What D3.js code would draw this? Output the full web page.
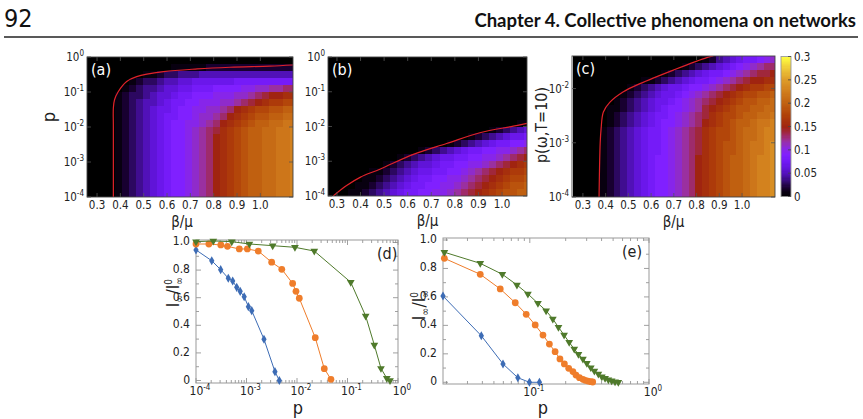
<!DOCTYPE html>
<html>
<head>
<meta charset="utf-8">
<script src="https://cdn.jsdelivr.net/npm/d3@7"></script>
<style>
  body { margin: 0; background: #fff; }
  svg { display: block; }
  text { font-family: "Liberation Sans Narrow", "DejaVu Sans Condensed", "Liberation Sans", sans-serif; fill: #222; }
</style>
</head>
<body>
<svg id="chart" width="863" height="419"></svg>
<script>
// ---------- heatmap data (values in units of 0.01) ----------
// beta/mu column centres shared by the three maps
const betaCols = [0.27, 0.30, 0.33, 0.36, 0.39, 0.42, 0.45, 0.48, 0.51, 0.54, 0.57, 0.60, 0.63, 0.66, 0.69,
                  0.72, 0.75, 0.78, 0.81, 0.84, 0.87, 0.90, 0.93, 0.96, 0.99, 1.02, 1.05, 1.08, 1.11, 1.14];
// log10(p) row centres, top row first
const rowsAB = [-0.1, -0.3, -0.5, -0.7, -0.9, -1.1, -1.3, -1.5, -1.7, -1.9,
                -2.1, -2.3, -2.5, -2.7, -2.9, -3.1, -3.3, -3.5, -3.7, -3.9];
const rowsC = [-1.465, -1.595, -1.725, -1.855, -1.985, -2.115, -2.245, -2.375, -2.505, -2.635,
               -2.765, -2.895, -3.025, -3.155, -3.285, -3.415, -3.545, -3.675, -3.805, -3.935];

const zeroRow = [0,0,0,0,0,0,0,0,0,0,0,0,0,0,0,0,0,0,0,0,0,0,0,0,0,0,0,0,0,0];
const aLow = [0,0,0,0,1,2,3,4,5,6,7,8,9,9,10,11,12,13,15,16,17,18,19,20,20,21,21,22,22,23];
const heatA = [
  zeroRow,
  [0,0,0,0,0,0,0,0,0,0,0,0,1,1,1,1,1,2,2,2,2,2,2,2,2,2,2,2,2,2],
  [0,0,0,0,0,0,0,0,1,1,2,3,3,4,4,4,5,5,5,5,5,5,5,5,5,5,5,5,5,5],
  [0,0,0,0,0,0,1,2,3,3,4,5,5,6,6,7,7,7,7,7,7,8,8,8,8,8,8,8,8,8],
  [0,0,0,0,0,1,2,3,4,4,5,6,6,7,7,8,8,8,9,9,9,9,10,10,11,11,12,12,13,13],
  [0,0,0,0,1,2,3,3,4,5,6,6,7,8,8,9,9,9,10,10,10,11,11,12,13,14,15,15,16,16],
  [0,0,0,0,1,2,3,4,5,5,6,7,8,8,9,9,10,10,10,11,11,12,13,14,15,16,17,17,18,18],
  [0,0,0,0,1,2,3,4,5,6,7,7,8,9,9,10,10,11,11,12,13,15,16,17,18,18,19,19,20,20],
  [0,0,0,0,1,2,3,4,5,6,7,8,8,9,9,10,11,11,12,13,15,16,17,18,19,19,20,20,21,21],
  [0,0,0,0,1,2,3,4,5,6,7,8,9,9,10,10,11,12,13,15,16,17,18,19,20,20,21,21,22,22],
  [0,0,0,0,1,2,3,4,5,6,7,8,9,9,10,11,12,13,14,16,17,18,19,20,20,21,21,22,22,23],
  aLow, aLow, aLow, aLow, aLow, aLow, aLow, aLow, aLow
];
const heatB = [
  zeroRow, zeroRow, zeroRow, zeroRow, zeroRow, zeroRow, zeroRow, zeroRow, zeroRow,
  [0,0,0,0,0,0,0,0,0,0,0,0,0,0,0,0,0,0,0,0,0,0,0,0,0,0,0,1,1,1],
  [0,0,0,0,0,0,0,0,0,0,0,0,0,0,0,0,0,0,0,0,0,0,0,1,2,3,4,5,6,6],
  [0,0,0,0,0,0,0,0,0,0,0,0,0,0,0,0,0,0,0,0,1,2,3,4,5,6,7,7,8,8],
  [0,0,0,0,0,0,0,0,0,0,0,0,0,0,0,0,0,1,2,3,4,5,6,7,8,8,9,9,10,10],
  [0,0,0,0,0,0,0,0,0,0,0,0,0,1,2,3,4,5,6,7,8,8,9,9,10,10,11,12,13,13],
  [0,0,0,0,0,0,0,0,0,0,1,2,3,4,5,6,7,7,8,8,9,9,10,10,11,12,13,14,15,15],
  [0,0,0,0,0,0,0,0,1,2,3,4,5,6,6,7,8,8,9,9,10,10,11,12,13,14,15,16,17,17],
  [0,0,0,0,0,0,1,1,2,3,4,5,6,7,7,8,8,9,9,10,11,12,13,14,15,16,17,17,18,18],
  [0,0,0,0,0,1,1,2,3,4,5,6,7,8,8,9,9,10,10,11,12,13,14,15,16,17,18,18,19,19],
  [0,0,0,0,1,1,2,3,4,5,6,7,8,8,9,9,10,10,11,12,13,14,15,16,17,18,19,19,20,20],
  [0,0,0,1,1,2,3,4,5,6,7,8,8,9,9,10,10,11,12,13,14,15,16,17,18,19,19,20,20,21]
];
const cMid = [0,0,0,0,1,2,3,4,5,6,7,8,8,9,10,11,12,13,14,16,17,18,18,19,20,21,21,22,23,23];
const cLow = [0,0,0,0,1,2,3,4,5,6,7,8,9,9,10,11,12,13,15,16,17,18,19,20,20,21,22,23,23,24];
const heatC = [
  [0,0,0,0,0,0,0,0,0,0,0,0,0,0,0,0,0,0,0,1,2,4,5,6,7,8,8,9,10,11],
  [0,0,0,0,0,0,0,0,0,0,0,0,0,0,0,0,1,2,3,4,5,6,7,8,9,10,11,12,13,13],
  [0,0,0,0,0,0,0,0,0,0,0,0,0,1,2,3,4,5,6,7,8,8,9,10,11,12,13,14,14,15],
  [0,0,0,0,0,0,0,0,0,0,1,1,2,3,4,5,6,7,8,8,9,10,11,12,13,14,15,15,16,16],
  [0,0,0,0,0,0,0,0,1,2,3,4,5,6,7,7,8,9,9,10,11,12,13,14,15,16,17,17,18,18],
  [0,0,0,0,0,0,0,1,2,3,4,5,6,7,7,8,9,10,11,12,13,14,15,16,17,18,18,19,19,20],
  [0,0,0,0,0,0,1,2,3,4,5,6,7,7,8,9,10,11,12,13,14,15,16,17,18,19,19,20,20,21],
  [0,0,0,0,0,1,1,2,3,4,5,6,7,8,9,9,10,11,12,14,15,16,17,18,19,19,20,20,21,21],
  [0,0,0,0,0,1,2,3,4,5,6,7,8,8,9,10,11,12,13,14,16,17,18,18,19,20,20,21,21,22],
  [0,0,0,0,0,1,2,3,4,5,6,7,8,9,9,10,11,12,13,15,16,17,18,19,20,20,21,22,22,23],
  cMid, cMid,
  [0,0,0,0,1,2,3,4,5,6,7,8,8,9,10,11,12,13,14,16,17,18,19,19,20,21,22,22,23,24],
  [0,0,0,0,1,2,3,4,5,6,7,8,8,9,10,11,12,13,14,16,17,18,19,19,20,21,22,22,23,24],
  cLow, cLow, cLow, cLow, cLow, cLow
];

// red threshold curves: [beta/mu, p]
const curveA = [[0.37, 1e-4], [0.37, 1e-2], [0.37, 0.035], [0.375, 0.06], [0.39, 0.10], [0.427, 0.20],
                [0.47, 0.275], [0.585, 0.38], [0.73, 0.457], [0.87, 0.51], [1.04, 0.55], [1.14, 0.59]];
const curveB = [[0.284, 1e-4], [0.341, 2.0e-4], [0.40, 3.5e-4], [0.482, 5.9e-4], [0.624, 1.58e-3],
                [0.765, 3.24e-3], [0.906, 6.6e-3], [1.048, 1.02e-2], [1.106, 1.23e-2]];
const curveC = [[0.371, 1e-4], [0.376, 1e-3], [0.38, 1.8e-3], [0.39, 3.7e-3], [0.419, 5.6e-3],
                [0.478, 8.7e-3], [0.551, 1.23e-2], [0.698, 2.19e-2], [0.845, 3.72e-2], [0.874, 3.98e-2]];

const betaTicks = [0.3, 0.4, 0.5, 0.6, 0.7, 0.8, 0.9, 1.0];
const cbTicks = [0, 0.05, 0.1, 0.15, 0.2, 0.25, 0.3];

// ---------- panel (d) ----------
const dBlueP = [1.0e-4, 2.05e-4, 3.08e-4, 4.36e-4, 5.33e-4, 6.4e-4, 7.5e-4, 9.0e-4, 1.09e-3, 1.27e-3, 2.22e-3, 3.66e-3, 4.47e-3];
const dBlueI = [0.946, 0.868, 0.803, 0.741, 0.721, 0.675, 0.646, 0.607, 0.535, 0.506, 0.299, 0.064, 0.0];
const dOrangeP = [1.0e-4, 1.8e-4, 3.1e-4, 4.2e-4, 7.2e-4, 1.04e-3, 1.71e-3, 3.15e-3, 5.0e-3, 8.2e-3, 9.55e-3, 1.11e-2, 2.3e-2, 3.47e-2, 4.7e-2];
const dOrangeI = [0.989, 0.989, 0.982, 0.972, 0.953, 0.953, 0.938, 0.857, 0.806, 0.703, 0.646, 0.596, 0.310, 0.086, 0.009];
const dGreenP = [1.0e-4, 2.2e-4, 5.1e-4, 1.14e-3, 3.3e-3, 9.1e-3, 2.2e-2, 0.116, 0.229, 0.34, 0.46, 0.60, 0.695];
const dGreenI = [1.006, 1.011, 1.006, 0.989, 0.977, 0.965, 0.938, 0.712, 0.467, 0.257, 0.088, 0.016, 0.0];

// ---------- panel (e) ----------
const eBlueP = [0.0187, 0.0392, 0.0596, 0.0794, 0.0993, 0.1205];
const eBlueI = [0.606, 0.327, 0.129, 0.032, 0.0, 0.0];
const eOrangeP = [0.0192, 0.0384, 0.0565, 0.0755, 0.0933, 0.111, 0.129, 0.146, 0.163, 0.179, 0.195, 0.212, 0.230,
                  0.244, 0.261, 0.279, 0.292, 0.308, 0.325, 0.337];
const eOrangeI = [0.871, 0.759, 0.656, 0.559, 0.478, 0.403, 0.332, 0.269, 0.215, 0.164, 0.129, 0.098, 0.075,
                  0.051, 0.032, 0.021, 0.014, 0.009, 0.004, 0.002];
const eGreenP = [0.0192, 0.0384, 0.0588, 0.078, 0.0964, 0.117, 0.137, 0.156, 0.174, 0.194, 0.214, 0.236, 0.256,
                 0.279, 0.301, 0.325, 0.348, 0.376, 0.402, 0.428, 0.456, 0.486, 0.519, 0.553];
const eGreenI = [0.914, 0.836, 0.759, 0.684, 0.621, 0.555, 0.503, 0.445, 0.387, 0.332, 0.281, 0.234, 0.197,
                 0.164, 0.134, 0.103, 0.079, 0.058, 0.039, 0.028, 0.018, 0.011, 0.004, 0.0];

const yTicksLin = [0, 0.2, 0.4, 0.6, 0.8, 1.0];

// ---------- setup ----------
const svg = d3.select("#chart");
const blue = "#3d6cb5", orange = "#ef7d2b", green = "#4f7a2b";

const cmap = d3.scaleLinear()
  .domain([0, 0.01, 0.02, 0.03, 0.045, 0.06, 0.075, 0.09, 0.105, 0.12, 0.135, 0.15, 0.175, 0.2, 0.225, 0.25, 0.275, 0.3])
  .range(["#000000", "#080010", "#180030", "#2c0860", "#4a10a8", "#6014d8", "#7018f4", "#8020ff", "#8a28e0",
          "#9a30a0", "#a02850", "#a02410", "#b04008", "#c06010", "#d07c1c", "#dd9a28", "#eec838", "#ffff40"])
  .clamp(true);

// header
svg.append("text").attr("x", 4).attr("y", 27).text("92")
  .style("font-size", "25px").style("fill", "#111");
const title = svg.append("text").attr("x", 856).attr("y", 27).attr("text-anchor", "end")
  .style("font-family", "Lato, 'Open Sans', sans-serif").style("font-weight", "bold")
  .style("font-size", "20px").style("fill", "#111")
  .text("Chapter 4. Collective phenomena on networks");
const tl = title.node().getComputedTextLength();
title.style("font-size", (20 * 382 / tl) + "px");
svg.append("line").attr("x1", 4).attr("x2", 858).attr("y1", 37).attr("y2", 37)
  .attr("stroke", "#222").attr("stroke-width", 1.3);

// write "10^e" into a text node
function powLabel(sel, e) {
  sel.append("tspan").text("10");
  sel.append("tspan").attr("dy", -5).style("font-size", "8px").text(e);
}

function heatPanel(cfg) {
  const x = d3.scaleLinear().domain(cfg.xDomain).range([cfg.left, cfg.right]);
  const y = d3.scaleLog().domain(cfg.yDomain).range([cfg.bottom, cfg.top]);
  const clipId = "clip-" + cfg.name;
  svg.append("clipPath").attr("id", clipId).append("rect")
    .attr("x", cfg.left).attr("y", cfg.top)
    .attr("width", cfg.right - cfg.left).attr("height", cfg.bottom - cfg.top);

  const cells = [];
  cfg.values.forEach((row, r) => row.forEach((v, c) => cells.push({ r: r, c: c, v: v })));
  const hb = (betaCols[1] - betaCols[0]) / 2;
  const hr = Math.abs(cfg.rows[0] - cfg.rows[1]) / 2;
  const g = svg.append("g").attr("clip-path", `url(#${clipId})`);
  g.selectAll("rect").data(cells).join("rect")
    .attr("x", d => x(betaCols[d.c] - hb))
    .attr("width", d => x(betaCols[d.c] + hb) - x(betaCols[d.c] - hb) + 0.6)
    .attr("y", d => y(Math.pow(10, cfg.rows[d.r] + hr)))
    .attr("height", d => y(Math.pow(10, cfg.rows[d.r] - hr)) - y(Math.pow(10, cfg.rows[d.r] + hr)) + 0.6)
    .attr("fill", d => cmap(d.v / 100))
    .attr("shape-rendering", "crispEdges");

  g.append("path").datum(cfg.curve)
    .attr("d", d3.line().x(d => x(d[0])).y(d => y(d[1])).curve(d3.curveCatmullRom))
    .attr("fill", "none").attr("stroke", "#e0222a").attr("stroke-width", 1.2);

  // ticks (inward, all sides)
  const tk = svg.append("g").attr("stroke", "#555").attr("stroke-width", 0.8);
  betaTicks.forEach(b => {
    tk.append("line").attr("x1", x(b)).attr("x2", x(b)).attr("y1", cfg.bottom).attr("y2", cfg.bottom - 4);
    tk.append("line").attr("x1", x(b)).attr("x2", x(b)).attr("y1", cfg.top).attr("y2", cfg.top + 4);
  });
  cfg.yExps.forEach(e => {
    const yy = y(Math.pow(10, e));
    tk.append("line").attr("x1", cfg.left).attr("x2", cfg.left + 4).attr("y1", yy).attr("y2", yy);
    tk.append("line").attr("x1", cfg.right).attr("x2", cfg.right - 4).attr("y1", yy).attr("y2", yy);
  });
  svg.append("rect").attr("x", cfg.left).attr("y", cfg.top)
    .attr("width", cfg.right - cfg.left).attr("height", cfg.bottom - cfg.top)
    .attr("fill", "none").attr("stroke", "#444").attr("stroke-width", 0.9);

  betaTicks.forEach(b => {
    svg.append("text").attr("x", x(b)).attr("y", cfg.bottom + 12).attr("text-anchor", "middle")
      .style("font-size", "11.5px").text(d3.format(".1f")(b));
  });
  cfg.yExps.forEach(e => {
    const t = svg.append("text").attr("x", cfg.left - 3).attr("y", y(Math.pow(10, e)) + 4)
      .attr("text-anchor", "end").style("font-size", "11.5px");
    powLabel(t, String(e));
  });

  svg.append("text").attr("x", (cfg.left + cfg.right) / 2 - cfg.xLabelShift).attr("y", cfg.bottom + 30)
    .attr("text-anchor", "middle").style("font-size", "15px").text("β/μ");
  svg.append("text").attr("transform", `translate(${cfg.yLabelX},${cfg.yLabelY}) rotate(-90)`)
    .attr("text-anchor", "middle").style("font-size", cfg.yLabelSize).text(cfg.yLabel);
  svg.append("text").attr("x", cfg.left + 4).attr("y", cfg.top + 18)
    .style("font-size", "16px").style("fill", "#fff").text(cfg.letter);
  return { x: x, y: y };
}

heatPanel({ name: "a", left: 87, right: 293, top: 57, bottom: 197, xDomain: [0.257, 1.14], yDomain: [1e-4, 1],
  rows: rowsAB, values: heatA, curve: curveA, yExps: [0, -1, -2, -3, -4], letter: "(a)",
  yLabel: "p", yLabelX: 55, yLabelY: 117, yLabelSize: "18px", xLabelShift: 8 });
heatPanel({ name: "b", left: 328, right: 527, top: 57, bottom: 196, xDomain: [0.262, 1.106], yDomain: [1e-4, 1],
  rows: rowsAB, values: heatB, curve: curveB, yExps: [0, -1, -2, -3, -4], letter: "(b)",
  yLabel: "", yLabelX: 0, yLabelY: 0, yLabelSize: "16px", xLabelShift: 0 });
heatPanel({ name: "c", left: 572, right: 775, top: 56, bottom: 197, xDomain: [0.252, 1.145],
  yDomain: [1e-4, Math.pow(10, -1.4)], rows: rowsC, values: heatC, curve: curveC, yExps: [-2, -3, -4], letter: "(c)",
  yLabel: "p(ω,T=10)", yLabelX: 547, yLabelY: 125, yLabelSize: "16px", xLabelShift: 0 });

// colour bar
const cbY = d3.scaleLinear().domain([0, 0.3]).range([196.5, 56.5]);
const cbSteps = d3.range(0, 0.3, 0.0025);
svg.append("g").selectAll("rect").data(cbSteps).join("rect")
  .attr("x", 781).attr("width", 10)
  .attr("y", d => cbY(d + 0.0025)).attr("height", d => cbY(d) - cbY(d + 0.0025) + 0.5)
  .attr("fill", d => cmap(d + 0.00125)).attr("shape-rendering", "crispEdges");
svg.append("rect").attr("x", 781).attr("y", 56.5).attr("width", 10).attr("height", 140)
  .attr("fill", "none").attr("stroke", "#999").attr("stroke-width", 0.9);
cbTicks.forEach(v => {
  svg.append("line").attr("x1", 788).attr("x2", 791).attr("y1", cbY(v)).attr("y2", cbY(v))
    .attr("stroke", "#444").attr("stroke-width", 0.8);
  svg.append("text").attr("x", 794).attr("y", cbY(v) + 4).style("font-size", "11.5px").text(String(v));
});

// ---------- line panels ----------
const symDiamond = d3.symbol().type(d3.symbolDiamond).size(24);
const symCircle = d3.symbol().type(d3.symbolCircle).size(36);
const symTri = d3.symbol().type(d3.symbolTriangle).size(26);

function yLabelI(x, y) {
  const t = svg.append("text").attr("transform", `translate(${x},${y}) rotate(-90)`)
    .attr("text-anchor", "middle").style("font-size", "17px");
  t.append("tspan").text("I");
  t.append("tspan").attr("dy", 4).style("font-size", "11px").text("∞");
  t.append("tspan").attr("dy", -4).text("/I");
  t.append("tspan").attr("dy", -7).style("font-size", "10px").text("0");
  t.append("tspan").attr("dx", -6).attr("dy", 11).style("font-size", "11px").text("∞");
}

function linePanel(cfg) {
  const x = d3.scaleLog().domain(cfg.xDomain).range([cfg.left, cfg.right]);
  const y = d3.scaleLinear().domain(cfg.yDomain).range([cfg.bottom, cfg.top]);
  const tk = svg.append("g").attr("stroke", "#888").attr("stroke-width", 0.8);
  const lo = Math.floor(Math.log10(cfg.xDomain[0])), hi = Math.ceil(Math.log10(cfg.xDomain[1]));
  for (let e = lo; e <= hi; e++) {
    for (let k = 1; k <= 9; k++) {
      const v = k * Math.pow(10, e);
      if (v < cfg.xDomain[0] * 0.999 || v > cfg.xDomain[1] * 1.001) continue;
      const len = k === 1 ? 5 : 3;
      tk.append("line").attr("x1", x(v)).attr("x2", x(v)).attr("y1", cfg.bottom).attr("y2", cfg.bottom - len);
      tk.append("line").attr("x1", x(v)).attr("x2", x(v)).attr("y1", cfg.top).attr("y2", cfg.top + len);
    }
  }
  for (let i = 0; i <= 10; i++) {
    const v = i / 10, yy = y(v), len = i % 2 === 0 ? 5 : 3;
    tk.append("line").attr("x1", cfg.left).attr("x2", cfg.left + len).attr("y1", yy).attr("y2", yy);
    tk.append("line").attr("x1", cfg.right).attr("x2", cfg.right - len).attr("y1", yy).attr("y2", yy);
  }
  svg.append("rect").attr("x", cfg.left).attr("y", cfg.top)
    .attr("width", cfg.right - cfg.left).attr("height", cfg.bottom - cfg.top)
    .attr("fill", "none").attr("stroke", "#999").attr("stroke-width", 1);

  cfg.xExps.forEach(e => {
    const t = svg.append("text").attr("x", x(Math.pow(10, e)) + 4).attr("y", cfg.bottom + 12)
      .attr("text-anchor", "middle").style("font-size", "12px");
    powLabel(t, e === 0 ? "0" : String(e));
  });
  yTicksLin.forEach(v => {
    svg.append("text").attr("x", cfg.left - 6).attr("y", y(v) + 3).attr("text-anchor", "end")
      .style("font-size", "12px").text(v === 0 ? "0" : d3.format(".1f")(v));
  });

  cfg.series.forEach(s => {
    const pts = s.p.map((p, i) => [p, s.v[i]]);
    svg.append("path").datum(pts)
      .attr("d", d3.line().x(d => x(d[0])).y(d => y(d[1])))
      .attr("fill", "none").attr("stroke", s.color).attr("stroke-width", 1);
    svg.append("g").selectAll("path").data(pts).join("path")
      .attr("d", s.shape)
      .attr("transform", d => `translate(${x(d[0])},${y(d[1])})` + (s.flip ? " rotate(180)" : ""))
      .attr("fill", s.color);
  });

  svg.append("text").attr("x", cfg.letterX).attr("y", cfg.top + 19).style("font-size", "16px").text(cfg.letter);
  svg.append("text").attr("x", cfg.pX).attr("y", 414)
    .attr("text-anchor", "middle").style("font-size", "18px").text("p");
  yLabelI(cfg.yLabelX, cfg.yLabelY);
}

linePanel({ left: 196, right: 398, top: 240, bottom: 383, xDomain: [1e-4, 1], yDomain: [-0.018, 1.018],
  xExps: [-4, -3, -2, -1, 0], letter: "(d)", letterX: 377, yLabelX: 179, yLabelY: 292, pX: 298,
  series: [
    { p: dBlueP, v: dBlueI, color: blue, shape: symDiamond },
    { p: dOrangeP, v: dOrangeI, color: orange, shape: symCircle },
    { p: dGreenP, v: dGreenI, color: green, shape: symTri, flip: true }
  ] });

linePanel({ left: 443, right: 649, top: 238, bottom: 384, xDomain: [0.0187, 1], yDomain: [-0.012, 1.014],
  xExps: [-1, 0], letter: "(e)", letterX: 622, yLabelX: 425, yLabelY: 305, pX: 543,
  series: [
    { p: eBlueP, v: eBlueI, color: blue, shape: symDiamond },
    { p: eOrangeP, v: eOrangeI, color: orange, shape: symCircle },
    { p: eGreenP, v: eGreenI, color: green, shape: symTri, flip: true }
  ] });
</script>
</body>
</html>
